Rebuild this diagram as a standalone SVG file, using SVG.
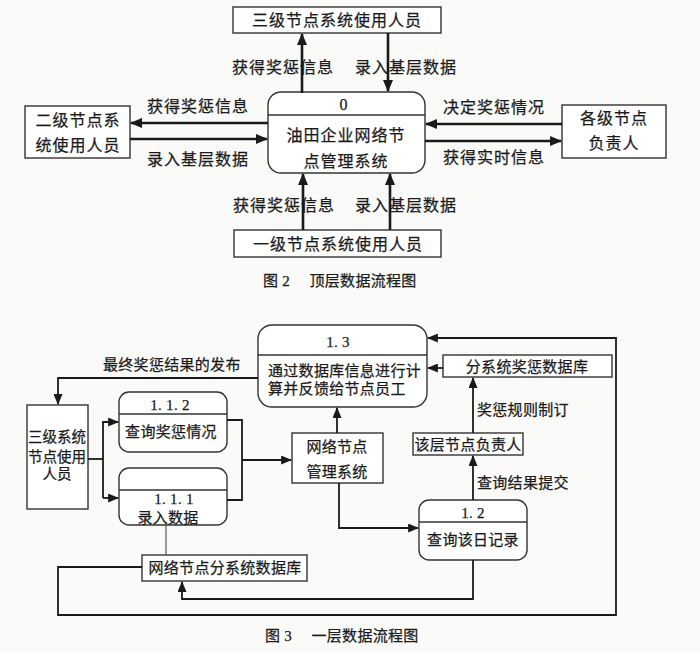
<svg xmlns="http://www.w3.org/2000/svg" width="700" height="652" viewBox="0 0 700 652">
<defs>
<marker id="ah" viewBox="0 0 12 10" refX="11" refY="5" markerWidth="12" markerHeight="10" markerUnits="userSpaceOnUse" orient="auto">
<path d="M0,0 L12,5 L0,10 z" fill="#1a1a1a"/>
</marker>
<marker id="ahs" viewBox="0 0 12 10" refX="11" refY="5" markerWidth="11" markerHeight="9" markerUnits="userSpaceOnUse" orient="auto">
<path d="M0,0 L12,5 L0,10 z" fill="#1a1a1a"/>
</marker>
</defs>
<style>
text { font-family: "Liberation Serif", "Noto Sans CJK SC", serif; fill: #1a1a1a; stroke: #1a1a1a; stroke-width: 0.25; }
.t16 { font-size: 16px; letter-spacing: 1px; }
.t15 { font-size: 15px; letter-spacing: 0.3px; }
.t14 { font-size: 14.5px; }
.box { fill: #ffffff; stroke: #333; stroke-width: 1.4; }
.div { stroke: #333; stroke-width: 1.4; }
.fl { fill: none; stroke: #1a1a1a; stroke-width: 2.6; marker-end: url(#ah); }
.fs { fill: none; stroke: #1a1a1a; stroke-width: 1.8; }
.fsa { fill: none; stroke: #1a1a1a; stroke-width: 1.8; marker-end: url(#ahs); }
.thin { fill: none; stroke: #555; stroke-width: 1.2; }
</style>
<rect x="0" y="0" width="700" height="652" fill="#fafaf8"/>

<!-- Top-level diagram -->
<g id="n-top">
<rect class="box" x="233" y="7" width="208" height="26"/>
<text class="t16" x="337" y="26" text-anchor="middle">三级节点系统使用人员</text>
</g>
<g id="n-center">
<rect class="box" x="268" y="92" width="157" height="81" rx="13"/>
<line class="div" x1="268" y1="115" x2="425" y2="115"/>
<text class="t16" x="344" y="110" text-anchor="middle">0</text>
<text class="t16" x="346" y="141" text-anchor="middle">油田企业网络节</text>
<text class="t16" x="346" y="167" text-anchor="middle">点管理系统</text>
</g>
<g id="n-left">
<rect class="box" x="25" y="106" width="105" height="52"/>
<text class="t16" x="78" y="126" text-anchor="middle">二级节点系</text>
<text class="t16" x="78" y="151" text-anchor="middle">统使用人员</text>
</g>
<g id="n-right">
<rect class="box" x="562" y="105" width="104" height="53"/>
<text class="t16" x="614" y="124" text-anchor="middle">各级节点</text>
<text class="t16" x="614" y="149" text-anchor="middle">负责人</text>
</g>
<g id="n-bottom">
<rect class="box" x="234" y="230" width="207" height="27"/>
<text class="t16" x="338" y="250" text-anchor="middle">一级节点系统使用人员</text>
</g>

<g id="connectors-top">
<line class="fl" x1="302" y1="93" x2="302" y2="34"/>
<line class="fl" x1="388" y1="33" x2="388" y2="91"/>
<line class="fl" x1="268" y1="123" x2="131" y2="123"/>
<line class="fl" x1="130" y1="139" x2="267" y2="139"/>
<line class="fl" x1="562" y1="124" x2="426" y2="124"/>
<line class="fl" x1="425" y1="141" x2="561" y2="141"/>
<line class="fl" x1="303" y1="230" x2="303" y2="174"/>
<line class="fl" x1="390" y1="230" x2="390" y2="174"/>
</g>
<g id="labels-top">
<text class="t16" x="232" y="73">获得奖惩信息</text>
<text class="t16" x="355" y="73">录入基层数据</text>
<text class="t16" x="147" y="112">获得奖惩信息</text>
<text class="t16" x="147" y="165">录入基层数据</text>
<text class="t16" x="443" y="113">决定奖惩情况</text>
<text class="t16" x="443" y="163">获得实时信息</text>
<text class="t16" x="233" y="211">获得奖惩信息</text>
<text class="t16" x="355" y="211">录入基层数据</text>
<text class="t15" x="263" y="286">图 2　 顶层数据流程图</text>
</g>

<!-- First-level diagram -->
<g id="n-1-3">
<rect class="box" x="258" y="325" width="169" height="82" rx="14"/>
<line class="div" x1="258" y1="355" x2="427" y2="355"/>
<text class="t15" x="338" y="347" text-anchor="middle">1. 3</text>
<text class="t15" x="268" y="376">通过数据库信息进行计</text>
<text class="t15" x="268" y="394">算并反馈给节点员工</text>
</g>
<g id="n-sanji">
<rect class="box" x="27" y="405" width="61" height="104"/>
<text class="t14" x="57" y="442" text-anchor="middle">三级系统</text>
<text class="t14" x="57" y="462" text-anchor="middle">节点使用</text>
<text class="t14" x="57" y="479" text-anchor="middle">人员</text>
</g>
<g id="n-1-1-2">
<rect class="box" x="119" y="392" width="108" height="60" rx="10"/>
<line class="div" x1="119" y1="414" x2="227" y2="414"/>
<text class="t15" x="170" y="410" text-anchor="middle">1. 1. 2</text>
<text class="t15" x="171" y="437" text-anchor="middle">查询奖惩情况</text>
</g>
<g id="n-1-1-1">
<rect class="box" x="119" y="468" width="108" height="57" rx="10"/>
<line class="div" x1="119" y1="490" x2="227" y2="490"/>
<text class="t15" x="174" y="504" text-anchor="middle">1. 1. 1</text>
<text class="t15" x="168" y="523" text-anchor="middle">录入数据</text>
</g>
<g id="n-wangluo">
<rect class="box" x="292" y="433" width="91" height="50"/>
<text class="t15" x="337" y="452" text-anchor="middle">网络节点</text>
<text class="t15" x="337" y="477" text-anchor="middle">管理系统</text>
</g>
<g id="n-fenxitong">
<rect class="box" x="443" y="355" width="169" height="22"/>
<text class="t15" x="527" y="372" text-anchor="middle">分系统奖惩数据库</text>
</g>
<g id="n-gaiceng">
<rect class="box" x="413" y="433" width="110" height="22"/>
<text class="t15" x="468" y="450" text-anchor="middle">该层节点负责人</text>
</g>
<g id="n-1-2">
<rect class="box" x="419" y="500" width="108" height="60" rx="10"/>
<line class="div" x1="419" y1="522" x2="527" y2="522"/>
<text class="t15" x="473" y="518" text-anchor="middle">1. 2</text>
<text class="t15" x="473" y="545" text-anchor="middle">查询该日记录</text>
</g>
<g id="n-db">
<rect class="box" x="142" y="555" width="165" height="26"/>
<text class="t15" x="225" y="573" text-anchor="middle">网络节点分系统数据库</text>
</g>

<g id="connectors-level1">
<polyline class="fsa" points="258,378 58,378 58,404"/>
<polyline class="fs" points="88,459 103,459"/>
<polyline class="fsa" points="103,498 103,422 118,422"/>
<polyline class="fsa" points="103,498 118,498"/>
<polyline class="fs" points="227,420 242,420 242,500 227,500"/>
<polyline class="fsa" points="242,460 291,460"/>
<polyline class="fsa" points="337,433 337,408"/>
<polyline class="fsa" points="339,483 339,528 418,528"/>
<line class="thin" x1="166" y1="525" x2="166" y2="555"/>
<polyline class="fsa" points="473,560 473,599 182,599 182,582"/>
<polyline class="fsa" points="142,567 58,567 58,615 616,615 616,338 428,338"/>
<polyline class="fsa" points="443,368 428,368"/>
<polyline class="fsa" points="473,433 473,378"/>
<polyline class="fsa" points="473,500 473,456"/>
</g>
<g id="labels-level1">
<text class="t15" x="103" y="370">最终奖惩结果的发布</text>
<text class="t15" x="477" y="415">奖惩规则制订</text>
<text class="t15" x="477" y="488">查询结果提交</text>
<text class="t15" x="265" y="641">图 3　 一层数据流程图</text>
</g>
</svg>
